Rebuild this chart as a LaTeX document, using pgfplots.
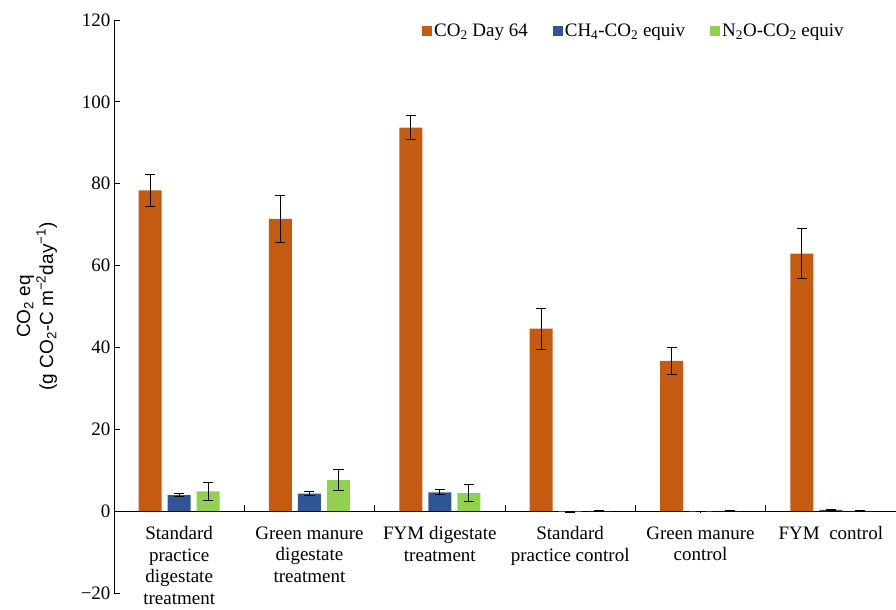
\documentclass[border=0pt]{standalone}
\usepackage{pgfplots}
\pgfplotsset{compat=1.18}
\usepackage{fontspec}
\setmainfont{Liberation Serif}
\newfontfamily\arialfont{Liberation Sans}
\definecolor{cotwo}{RGB}{197,90,17}
\definecolor{chfour}{RGB}{47,85,151}
\definecolor{ntwoo}{RGB}{146,208,80}
\begin{document}
\begin{tikzpicture}
\path[use as bounding box] (-114bp,-17bp) rectangle (782bp,593bp);
\begin{axis}[
  scale only axis, width=782bp, height=573bp,
  xmin=-0.5, xmax=5.5, ymin=-20, ymax=120,
  axis x line=middle, axis y line=left, axis line style={-, line width=0.8bp},
  ybar=6bp, bar width=23bp,
  font=\fontsize{19bp}{21.7bp}\selectfont,
  xtick={0,...,5}, major x tick style={draw=none},
  minor xtick={0.5,1.5,2.5,3.5,4.5,5.5}, minor tick length=6bp,
  minor x tick style={line width=0.8bp, black},
  xtick align=inside,
  xticklabels={{Standard\\practice\\digestate\\treatment},{Green manure\\digestate\\treatment},{FYM digestate\\treatment},{Standard\\practice control},{Green manure\\control},{FYM\ \ control}},
  xticklabel style={align=center, anchor=north, yshift=-12bp, font=\fontsize{19bp}{21.5bp}\selectfont},
  ytick={-20,0,20,40,60,80,100,120},
  yticklabels={−20,0,20,40,60,80,100,120},
  ytick align=inside, major tick length=6bp,
  y tick style={line width=0.8bp, black},
  yticklabel style={font=\fontsize{19bp}{21.7bp}\selectfont},
  ylabel={CO\textsubscript{2} eq\\(g CO\textsubscript{2}-C m\textsuperscript{−2}day\textsuperscript{−1})},
  ylabel style={align=center, font=\arialfont\fontsize{19bp}{23bp}\selectfont, at={(rel axis cs:0,0.5)}, anchor=center, yshift=77bp},
  legend style={at={(rel axis cs:0.39,0.981)}, anchor=west, draw=none, fill=none, legend columns=3, font=\fontsize{19bp}{21.7bp}\selectfont, /tikz/every even column/.append style={column sep=23bp}},
  legend image code/.code={\fill[#1] (0bp,-5bp) rectangle (10bp,5bp);},
  error bars/error bar style={line width=1bp, black},
  error bars/error mark options={rotate=90, mark size=5bp, line width=1bp, black},
  clip=false,
]
\addplot[fill=cotwo, draw=none, error bars/.cd, y dir=both, y explicit] coordinates {
 (0,78.4) +- (0,3.9)
 (1,71.4) +- (0,5.8)
 (2,93.7) +- (0,3.0)
 (3,44.6) +- (0,5.0)
 (4,36.7) +- (0,3.3)
 (5,62.9) +- (0,6.1)
};
\addplot[fill=chfour, draw=none, error bars/.cd, y dir=both, y explicit] coordinates {
 (0,3.9) +- (0,0.4)
 (1,4.3) +- (0,0.4)
 (2,4.6) +- (0,0.6)
 (3,-0.2) +- (0,0.05)
 (4,-0.1) +- (0,0.05)
 (5,0.3) +- (0,0.05)
};
\addplot[fill=ntwoo, draw=none, error bars/.cd, y dir=both, y explicit] coordinates {
 (0,4.8) +- (0,2.3)
 (1,7.6) +- (0,2.5)
 (2,4.4) +- (0,2.0)
 (3,0.05) +- (0,0.02)
 (4,0.05) +- (0,0.02)
 (5,0.05) +- (0,0.02)
};
\legend{CO\textsubscript{2} Day 64, CH\textsubscript{4}-CO\textsubscript{2} equiv, N\textsubscript{2}O-CO\textsubscript{2} equiv}
\end{axis}
\end{tikzpicture}
\end{document}
